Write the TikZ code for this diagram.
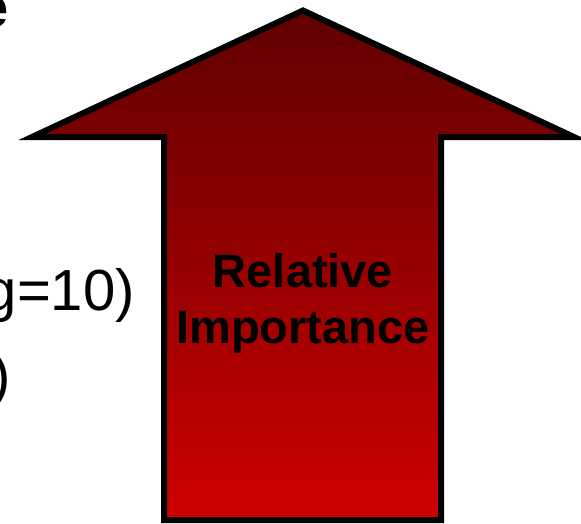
\documentclass[tikz,border=0pt]{standalone}
\usepackage{fontspec}
\setmainfont{Liberation Sans}
\definecolor{arrtop}{RGB}{96,0,0}
\definecolor{arrbot}{RGB}{206,0,0}
\begin{document}
\begin{tikzpicture}[x=1pt,y=-1pt,
  arrowshape/.style={line width=6pt, line join=miter, draw=black, top color=arrtop, bottom color=arrbot},
  label/.style={inner sep=0pt, font=\fontsize{47}{56}\selectfont\bfseries, text=black},
  sidetext/.style={inner sep=0pt, font=\fontsize{58}{68}\selectfont, text=black}]
\useasboundingbox (0,0) rectangle (581,523);
\coordinate (apex) at (303,10.5);
\coordinate (rw) at (574,137);
\coordinate (rs) at (441,137);
\coordinate (rb) at (441,520);
\coordinate (lb) at (164,520);
\coordinate (ls) at (164,137);
\coordinate (lw) at (32,137);
\draw[arrowshape] (apex) -- (rw) -- (rs) -- (rb) -- (lb) -- (ls) -- (lw) -- cycle;
\node[label, anchor=base] (rel) at (303,287) {Relative};
\node[label, anchor=base] (imp) at (303,343) {Importance};
\node[sidetext, anchor=base east] (l1) at (135,310) {g=10)};
\node[sidetext, anchor=base east] (l2) at (11,395) {)};
\node[sidetext, anchor=base east, font=\fontsize{58}{68}\selectfont\bfseries] (e) at (9,27) {e};
\end{tikzpicture}
\end{document}
